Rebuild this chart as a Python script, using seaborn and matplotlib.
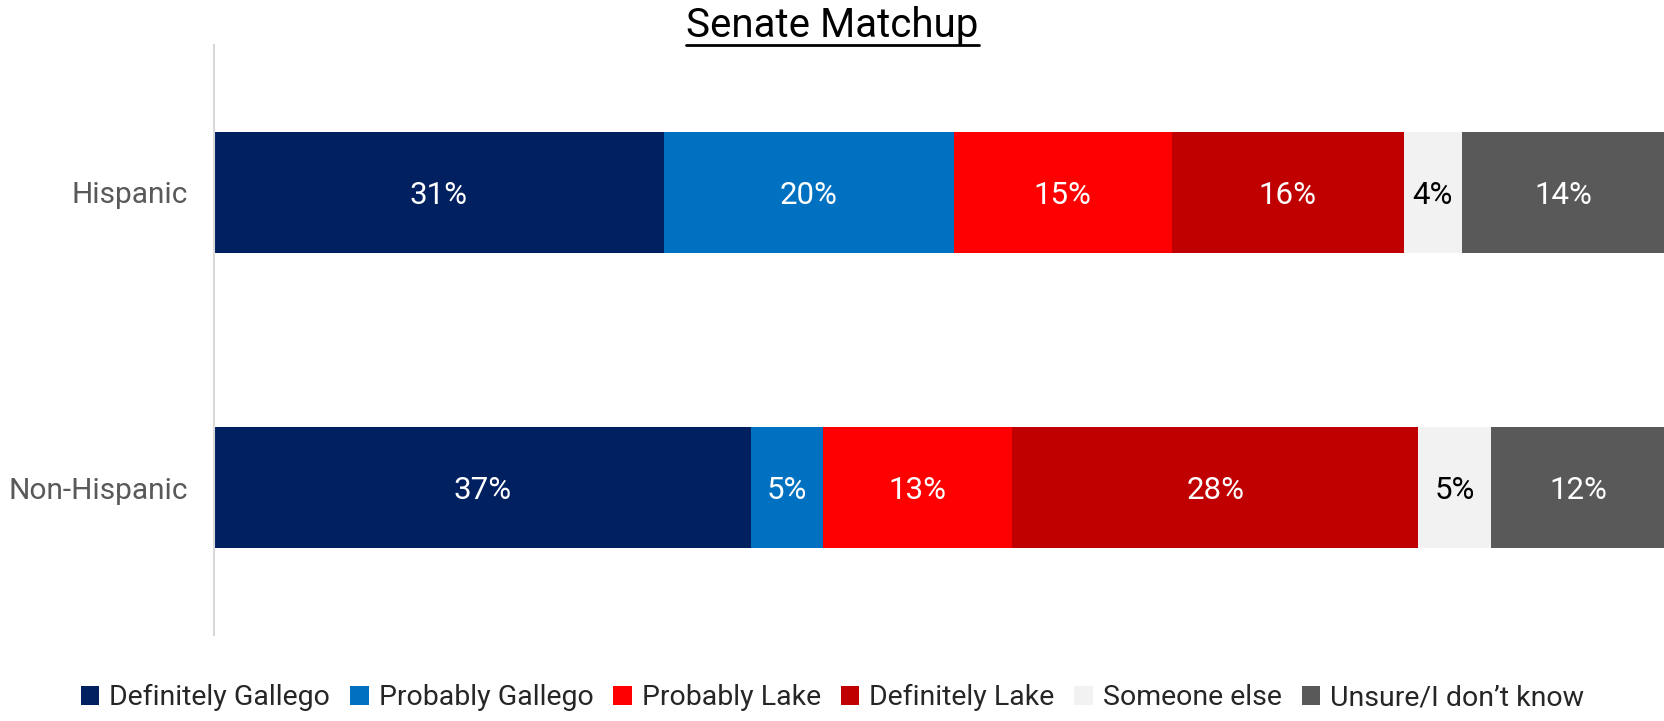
import pandas as pd
import numpy as np
import matplotlib
matplotlib.use('Agg')
import matplotlib.pyplot as plt
from matplotlib.patches import Patch
import seaborn as sns

groups = ['Hispanic', 'Non-Hispanic']
answers = ['Definitely Gallego', 'Probably Gallego', 'Probably Lake',
           'Definitely Lake', 'Someone else', 'Unsure/I don\u2019t know']
hispanic = [31, 20, 15, 16, 4, 14]
non_hispanic = [37, 5, 13, 28, 5, 12]
colors = ['#002060', '#0070C0', '#FF0000', '#C00000', '#F2F2F2', '#595959']
label_colors = ['white', 'white', 'white', 'white', 'black', 'white']

sns.set_style('white')
plt.rcParams['font.family'] = ['Roboto', 'DejaVu Sans']

df = pd.DataFrame({'group': groups})
for i, a in enumerate(answers):
    df[a] = [hispanic[i], non_hispanic[i]]
cum = df[answers].cumsum(axis=1)

fig = plt.figure(figsize=(16.65, 7.21), dpi=100)
ax = fig.add_axes([0.1285, 0.119, 0.8715, 0.819])

# stacked bars: draw cumulative totals from the widest back to the narrowest
for i in range(len(answers) - 1, -1, -1):
    sns.barplot(x=cum[answers[i]], y=df['group'], color=colors[i], width=0.41,
                orient='h', ax=ax, saturation=1, linewidth=0)

for i, a in enumerate(answers):
    for j in range(len(groups)):
        v = df[a].iloc[j]
        c = cum[a].iloc[j] - v / 2
        ax.text(c, j, f'{v}%', ha='center', va='center_baseline', fontsize=22.5,
                color=label_colors[i])

ax.set_xlim(0, 100)
ax.set_ylim(1.5, -0.5)
ax.set_xlabel('')
ax.set_ylabel('')
ax.xaxis.set_visible(False)
for s in ['top', 'right', 'bottom']:
    ax.spines[s].set_visible(False)
ax.spines['left'].set_color('#D9D9D9')
ax.spines['left'].set_linewidth(1.5)
ax.tick_params(axis='y', which='major', length=0, pad=19, labelsize=21.5,
               labelcolor='#595959')
ax.set_yticks([-0.5, 0.5, 1.5], minor=True)
ax.tick_params(axis='y', which='minor', length=10, width=1.5, color='#D9D9D9')

title = fig.text(0.5, 0.949, 'Senate Matchup', ha='center', va='baseline',
                 fontsize=29, color='black')
fig.canvas.draw()
bb = title.get_window_extent().transformed(fig.transFigure.inverted())
fig.add_artist(plt.Line2D([bb.x0, bb.x1], [0.937, 0.937], color='black',
                          linewidth=2, transform=fig.transFigure))

handles = [Patch(facecolor=c, edgecolor='none') for c in colors]
fig.legend(handles, answers, loc='center', bbox_to_anchor=(0.5, 0.032), ncol=6,
           frameon=False, fontsize=20.5, handlelength=0.65, handleheight=0.65,
           handletextpad=0.35, columnspacing=0.7)

fig.savefig('out.png', dpi=100)
